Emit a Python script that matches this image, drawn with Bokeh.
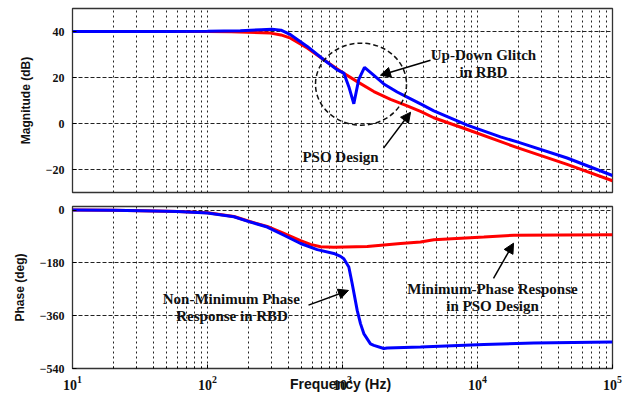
from bokeh.plotting import figure
from bokeh.layouts import column
from bokeh.models import FixedTicker, Grid, Arrow, NormalHead, Label
from bokeh.embed import file_html
from bokeh.resources import INLINE

# ---------------- data ----------------
decades = [10, 100, 1000, 10000, 100000]
minor_ticks = [k * d for d in decades[:-1] for k in range(2, 10)]
mag_ticks = [-20, 0, 20, 40]
phase_ticks = [-540, -360, -180, 0]

# magnitude, RBD (blue)
f_mag_rbd = [10, 50, 100, 175, 250, 300, 350, 412, 548, 727, 914, 1023, 1114, 1213, 1320,
             1455, 1700, 2023, 2540, 3015, 3783, 4745, 8390, 14790, 19690, 46100, 100000]
mag_rbd = [40, 40, 40.1, 40.3, 40.8, 41.0, 40.6, 38.6, 33.5, 27.7, 23.3, 21.9, 16.0, 8.6, 19.2,
           24.4, 21.0, 17.2, 13.7, 11.5, 8.5, 5.5, -0.7, -5.8, -8.0, -15.0, -22.6]

# magnitude, PSO (red)
f_mag_pso = [10, 100, 150, 200, 293, 350, 412, 548, 727, 967, 1285, 1707, 2268, 3015, 3783,
             4745, 8390, 19690, 46100, 100000]
mag_pso = [40, 40, 39.9, 39.7, 39.3, 38.5, 37.1, 32.8, 27.7, 22.7, 18.2, 13.9, 10.5, 7.7, 5.3,
           2.5, -2.6, -10.5, -17.8, -24.9]

# phase, RBD (blue)
f_ph_rbd = [10, 20, 40, 60, 100, 157, 208, 277, 368, 489, 650, 862, 967, 1023, 1114, 1180, 1285,
            1359, 1438, 1611, 1707, 2023, 2143, 3783, 11140, 26100, 100000]
ph_rbd = [0, -1, -3, -5, -10, -23, -41, -58, -86, -114, -135, -148, -158, -166, -194, -251, -342,
          -387, -421, -456, -461, -472, -470, -467, -458, -453, -450]

# phase, PSO (red)
f_ph_pso = [10, 20, 40, 60, 100, 157, 208, 277, 368, 489, 579, 688, 862, 1524, 2692, 3783, 4745,
            11140, 18580, 100000]
ph_pso = [0, -1, -3, -5, -9, -22, -40, -56, -80, -104, -117, -125, -127, -124, -114, -109, -101,
          -92, -86, -84]

# annotations (frequency, value)
glitch_lines = ["Up-Down Glitch", "in RBD"]
glitch_pos = [(11070, 29.7), (11070, 22.3)]
glitch_arrow = [(4487, 27.5), (1910, 21.0)]
pso_label = "PSO Design"
pso_pos = (967, -14.7)
pso_arrow = [(2014, -10.7), (3192, 4.9)]
circle_center = (1371, 17.1)
nmp_lines = ["Non-Minimum Phase", "Response in RBD"]
nmp_pos = [(150, -304), (152, -362)]
nmp_arrow = [(560, -324), (1107, -274)]
mp_lines = ["Minimum-Phase Response", "in PSO Design"]
mp_pos = [(12910, -270), (12910, -328)]
mp_arrow = [(13140, -233), (18490, -113)]

BLUE = "#0000FF"
RED = "#FF0000"
GRIDC = "#222222"
SERIF = "Liberation Serif"
SANS = "Liberation Sans"


def base_fig(y_range, height, top, bottom, with_x):
    p = figure(width=634, height=height, x_axis_type="log", x_range=(10, 1e5), y_range=y_range,
               x_axis_location="below" if with_x else None,
               output_backend="svg", toolbar_location=None,
               min_border_left=72, min_border_right=22, min_border_top=top,
               min_border_bottom=bottom)
    p.background_fill_color = "white"
    p.border_fill_color = "white"
    p.outline_line_color = "#333333"
    p.outline_line_width = 1.3
    p.xgrid.visible = False
    p.ygrid.visible = False
    vg = Grid(dimension=0, ticker=FixedTicker(ticks=decades, minor_ticks=minor_ticks),
              grid_line_color=GRIDC, grid_line_dash="2 3", grid_line_width=1,
              minor_grid_line_color=GRIDC, minor_grid_line_dash="2 3", minor_grid_line_width=1)
    p.add_layout(vg)
    p.yaxis.major_tick_in = 4
    p.yaxis.major_tick_out = 0
    p.yaxis.minor_tick_line_color = None
    p.yaxis.axis_line_color = "#333333"
    p.yaxis.major_label_text_font = SERIF
    p.yaxis.major_label_text_font_style = "bold"
    p.yaxis.major_label_text_font_size = "12px"
    p.yaxis.major_label_text_color = "#111111"
    p.yaxis.major_label_standoff = 8
    p.yaxis.axis_label_text_font = SANS
    p.yaxis.axis_label_text_font_style = "bold"
    p.yaxis.axis_label_text_font_size = "12px"
    p.yaxis.axis_label_text_color = "#111111"
    p.yaxis.axis_label_standoff = 10
    return p


def label(p, text, x, y, size="15px", font=SERIF, **kw):
    p.add_layout(Label(x=x, y=y, text=text, text_font=font, text_font_style="bold",
                       text_font_size=size, text_color="#111111", text_align="center",
                       text_baseline="middle", **kw))


def arrow(p, pts):
    p.add_layout(Arrow(end=NormalHead(size=10, fill_color="black", line_color="black"),
                       x_start=pts[0][0], y_start=pts[0][1], x_end=pts[1][0], y_end=pts[1][1],
                       line_color="black", line_width=1.5))


# ---------------- magnitude ----------------
p1 = base_fig((-30, 50), 198, 8, 6, False)
p1.add_layout(Grid(dimension=1, ticker=FixedTicker(ticks=mag_ticks), grid_line_color=GRIDC,
                   grid_line_dash="4 2", grid_line_width=1))
p1.yaxis.ticker = FixedTicker(ticks=mag_ticks)
p1.yaxis.axis_label = "Magnitude (dB)"
p1.line(f_mag_pso, mag_pso, line_color=RED, line_width=3)
p1.line(f_mag_rbd, mag_rbd, line_color=BLUE, line_width=3)
p1.ellipse(x=[circle_center[0]], y=[circle_center[1]], width=91, height=82,
           width_units="screen", height_units="screen", fill_color=None,
           line_color="#111111", line_dash="5 3", line_width=1.5)
for t, (x, y) in zip(glitch_lines, glitch_pos):
    label(p1, t, x, y)
arrow(p1, glitch_arrow)
label(p1, pso_label, pso_pos[0], pso_pos[1])
arrow(p1, pso_arrow)

# ---------------- phase ----------------
p2 = base_fig((-540, 12), 198, 8, 28, True)
p2.add_layout(Grid(dimension=1, ticker=FixedTicker(ticks=phase_ticks), grid_line_color=GRIDC,
                   grid_line_dash="4 2", grid_line_width=1))
p2.yaxis.ticker = FixedTicker(ticks=phase_ticks)
p2.yaxis.axis_label = "Phase (deg)"
p2.xaxis.ticker = FixedTicker(ticks=decades, minor_ticks=minor_ticks)
p2.xaxis.major_tick_in = 4
p2.xaxis.major_tick_out = 0
p2.xaxis.minor_tick_in = 2
p2.xaxis.minor_tick_out = 0
p2.xaxis.axis_line_color = "#333333"
p2.xaxis.major_label_text_font = SERIF
p2.xaxis.major_label_text_font_style = "bold"
p2.xaxis.major_label_text_font_size = "14px"
p2.xaxis.major_label_text_color = "#111111"
p2.xaxis.major_label_standoff = 7
p2.xaxis.axis_label = "Frequency  (Hz)"
p2.xaxis.axis_label_text_font = SANS
p2.xaxis.axis_label_text_font_style = "bold"
p2.xaxis.axis_label_text_font_size = "14px"
p2.xaxis.axis_label_text_color = "#111111"
p2.xaxis.axis_label_standoff = -17
p2.line(f_ph_pso, ph_pso, line_color=RED, line_width=3)
p2.line(f_ph_rbd, ph_rbd, line_color=BLUE, line_width=3)
for t, (x, y) in zip(nmp_lines, nmp_pos):
    label(p2, t, x, y)
arrow(p2, nmp_arrow)
for t, (x, y) in zip(mp_lines, mp_pos):
    label(p2, t, x, y)
arrow(p2, mp_arrow)

layout = column(p1, p2, spacing=0)
open("out.html", "w").write(file_html(layout, INLINE))
